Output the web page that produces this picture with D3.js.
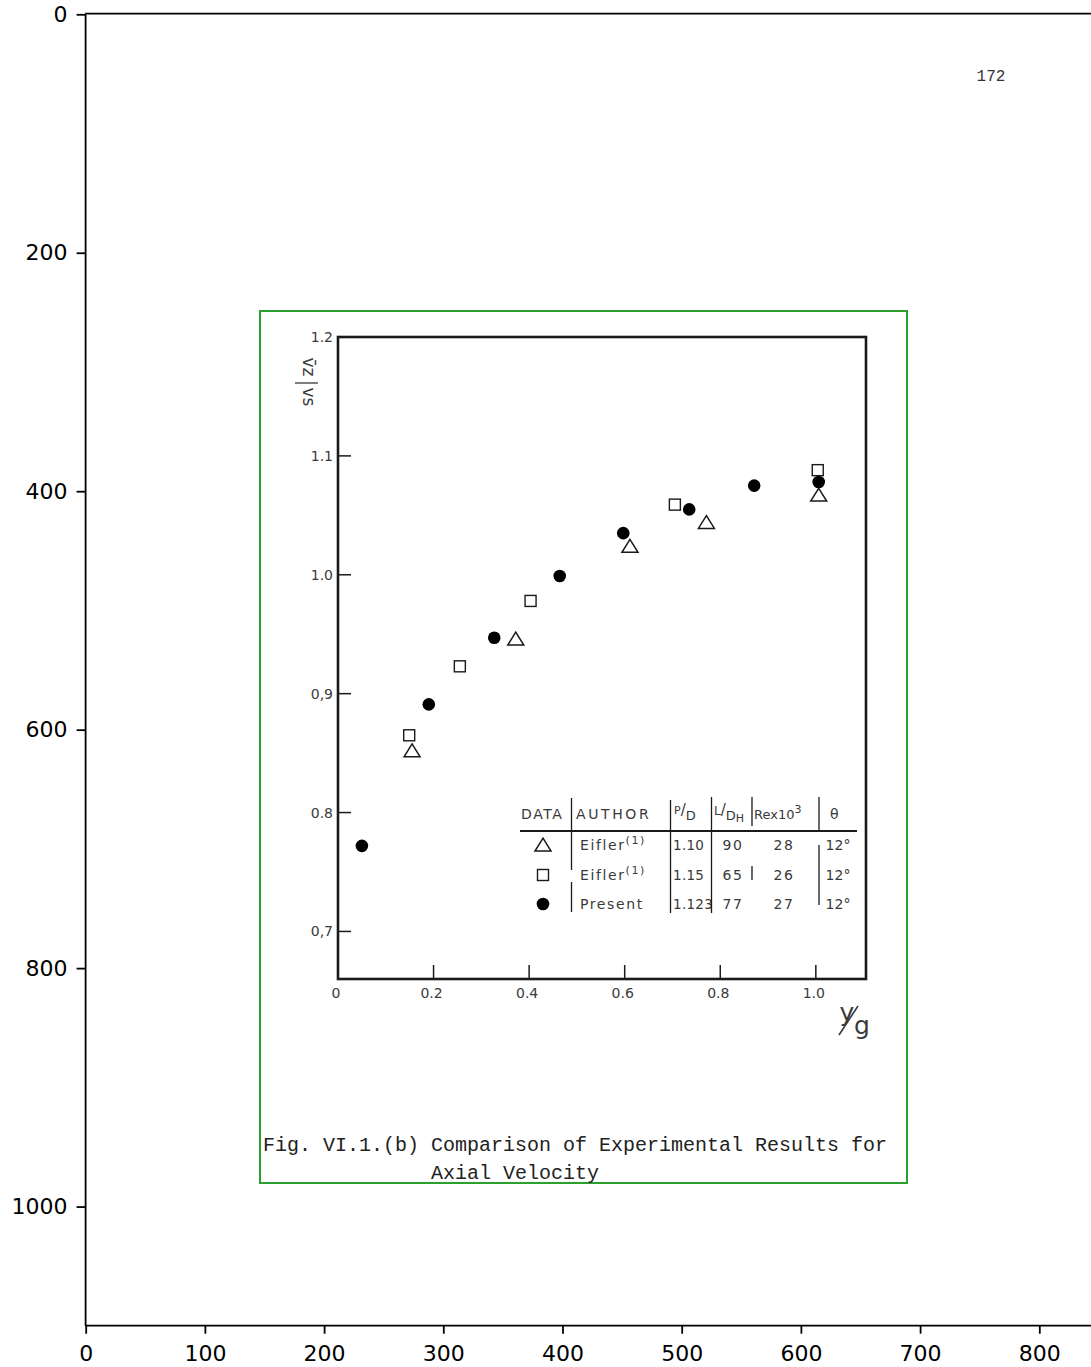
<!DOCTYPE html>
<html><head><meta charset="utf-8">
<script src="https://cdn.jsdelivr.net/npm/d3@7"></script>
<style>body{margin:0;background:#fff}</style>
</head><body>
<script>
// ---- outer (image pixel) axes ----
const outerXTicks=[0,100,200,300,400,500,600,700,800];
const outerYTicks=[0,200,400,600,800,1000];
// ---- inner (scanned chart) axes ----
const innerXTicks=[0.2,0.4,0.6,0.8,1.0];
const innerXTickLabels=["0","0.2","0.4","0.6","0.8","1.0"];
const innerXLabelValues=[0,0.2,0.4,0.6,0.8,1.0];
const innerYTicks=[0.7,0.8,0.9,1.0,1.1];
const innerYLabelValues=[0.7,0.8,0.9,1.0,1.1,1.2];
const innerYTickLabels=["0,7","0.8","0,9","1.0","1.1","1.2"];
// ---- series ----
const triangleX=[0.155,0.372,0.611,0.771,1.006];
const triangleY=[0.852,0.946,1.024,1.044,1.067];
const squareX=[0.149,0.255,0.403,0.705,1.004];
const squareY=[0.865,0.923,0.978,1.059,1.088];
const circleX=[0.050,0.190,0.327,0.464,0.597,0.735,0.871,1.006];
const circleY=[0.772,0.891,0.947,0.999,1.035,1.055,1.075,1.078];
// ---- legend table ----
const legendHeaders=["DATA","AUTHOR","P/D","L/DH","Rex10³","θ"];
const legendAuthors=["Eifler","Eifler","Present"];
const legendAuthorRefs=["(1)","(1)",""];
const legendPD=["1.10","1.15","1.123"];
const legendLDH=["90","65","77"];
const legendRe=["28","26","27"];
const legendTheta=["12°","12°","12°"];
const captionLines=["Fig. VI.1.(b) Comparison of Experimental Results for","Axial Velocity"];
const pageNumber="172";

const W=1091,H=1367;
const svg=d3.select("body").append("svg").attr("width",W).attr("height",H)
  .style("font-family","'DejaVu Sans',sans-serif");

// outer scales
const ox=d3.scaleLinear().domain([-0.5,849.5]).range([85.1,1098.3]);
const oy=d3.scaleLinear().domain([-0.5,1099.5]).range([13.7,1325.2]);

// green box (frame of the scanned figure)
svg.append("rect").attr("x",260).attr("y",311).attr("width",647).attr("height",872)
  .attr("fill","none").attr("stroke","#2ca02c").attr("stroke-width",2);

// outer axes
const gx=svg.append("g").attr("transform",`translate(0,${oy(1099.5)})`)
  .call(d3.axisBottom(ox).tickValues(outerXTicks).tickFormat(d3.format("d")).tickSize(8.5).tickSizeOuter(0).tickPadding(12));
const gy=svg.append("g").attr("transform",`translate(${ox(-0.5)},0)`)
  .call(d3.axisLeft(oy).tickValues(outerYTicks).tickFormat(d3.format("d")).tickSize(8.5).tickSizeOuter(0).tickPadding(9));
[gx,gy].forEach(g=>{
  g.selectAll("path,line").attr("stroke","#000").attr("stroke-width",1.8);
  g.selectAll("text").attr("font-size",22).attr("fill","#000").attr("font-family","'DejaVu Sans',sans-serif");
});
svg.append("line").attr("x1",ox(-0.5)).attr("x2",ox(849.5)).attr("y1",oy(-0.5)).attr("y2",oy(-0.5))
  .attr("stroke","#000").attr("stroke-width",1.8);

// inner scales
const ix=d3.scaleLinear().domain([0,1.105]).range([338,866]);
const iy=d3.scaleLinear().domain([0.66,1.2]).range([979,337]);
const ink="#1a1a1a", txt="#3a3a3a";

// inner frame
svg.append("rect").attr("x",ix(0)).attr("y",iy(1.2)).attr("width",ix(1.105)-ix(0)).attr("height",iy(0.66)-iy(1.2))
  .attr("fill","none").attr("stroke",ink).attr("stroke-width",2.6);

// inner ticks
svg.append("g").selectAll("line").data(innerXTicks).join("line")
  .attr("x1",d=>ix(d)).attr("x2",d=>ix(d)).attr("y1",iy(0.66)).attr("y2",iy(0.66)-14)
  .attr("stroke",ink).attr("stroke-width",1.5);
svg.append("g").selectAll("line").data(innerYTicks).join("line")
  .attr("x1",ix(0)).attr("x2",ix(0)+13).attr("y1",d=>iy(d)).attr("y2",d=>iy(d))
  .attr("stroke",ink).attr("stroke-width",1.5);
svg.append("g").selectAll("text").data(innerXLabelValues).join("text")
  .attr("x",d=>ix(d)-2).attr("y",998).attr("text-anchor","middle")
  .attr("font-size",14).attr("fill",txt).text((d,i)=>innerXTickLabels[i]);
svg.append("g").selectAll("text").data(innerYLabelValues).join("text")
  .attr("x",333).attr("y",d=>iy(d)+5).attr("text-anchor","end")
  .attr("font-size",14).attr("fill",txt).text((d,i)=>innerYTickLabels[i]);

// inner y label (vz / vs)
const yl=svg.append("g").attr("fill",txt).attr("font-size",17);
yl.append("text").attr("transform","translate(303,367) rotate(90)").attr("text-anchor","middle").text("v̄z");
yl.append("line").attr("x1",295).attr("x2",318).attr("y1",383).attr("y2",383).attr("stroke",txt).attr("stroke-width",1.3);
yl.append("text").attr("transform","translate(303,397) rotate(90)").attr("text-anchor","middle").text("vs");

// inner x label (y/g)
const xl=svg.append("g").attr("fill",txt).attr("font-size",25);
xl.append("text").attr("x",847).attr("y",1021).attr("text-anchor","middle").text("y");
xl.append("line").attr("x1",839).attr("y1",1035).attr("x2",858).attr("y2",1006).attr("stroke",txt).attr("stroke-width",1.6);
xl.append("text").attr("x",862).attr("y",1034).attr("text-anchor","middle").text("g");

// marks
const triPath=(cx,cy,s)=>`M${cx},${cy-s*0.85}L${cx+s},${cy+s*0.75}L${cx-s},${cy+s*0.75}Z`;
svg.append("g").selectAll("path").data(triangleX).join("path")
  .attr("d",(d,i)=>triPath(ix(d),iy(triangleY[i]),8))
  .attr("fill","#fff").attr("stroke",ink).attr("stroke-width",1.5);
svg.append("g").selectAll("rect").data(squareX).join("rect")
  .attr("x",d=>ix(d)-5.5).attr("y",(d,i)=>iy(squareY[i])-5.5).attr("width",11).attr("height",11)
  .attr("fill","#fff").attr("stroke",ink).attr("stroke-width",1.4);
svg.append("g").selectAll("circle").data(circleX).join("circle")
  .attr("cx",d=>ix(d)).attr("cy",(d,i)=>iy(circleY[i])).attr("r",6.3).attr("fill","#000");

// legend table
const lg=svg.append("g").attr("fill",txt).attr("font-size",14).attr("letter-spacing",1.6);
lg.append("text").attr("x",521).attr("y",819).text(legendHeaders[0]);
lg.append("text").attr("x",576).attr("y",819).attr("letter-spacing",2.6).text(legendHeaders[1]);
const pd=lg.append("text").attr("x",674).attr("y",819).attr("letter-spacing",0);
pd.append("tspan").attr("font-size",11).attr("dy",-5).text("P");
pd.append("tspan").attr("font-size",15).attr("dy",1).text("/");
pd.append("tspan").attr("font-size",13).attr("dy",5).text("D");
const ld=lg.append("text").attr("x",714).attr("y",819).attr("letter-spacing",0);
ld.append("tspan").attr("font-size",12).attr("dy",-4).text("L");
ld.append("tspan").attr("font-size",15).attr("dy",0).text("/");
ld.append("tspan").attr("font-size",13).attr("dy",5).text("D");
ld.append("tspan").attr("font-size",11).attr("dy",2).text("H");
const re=lg.append("text").attr("x",754).attr("y",819).attr("letter-spacing",0).attr("font-size",13);
re.append("tspan").text("Rex10");
re.append("tspan").attr("font-size",11).attr("dy",-6).text("3");
lg.append("text").attr("x",835).attr("y",819).attr("text-anchor","middle").text(legendHeaders[5]);

const rowY=[850,880,909];
// legend symbols
lg.append("path").attr("d",triPath(543,rowY[0]-5,8)).attr("fill","#fff").attr("stroke",ink).attr("stroke-width",1.5);
lg.append("rect").attr("x",537.5).attr("y",rowY[1]-10.5).attr("width",11).attr("height",11).attr("fill","#fff").attr("stroke",ink).attr("stroke-width",1.4);
lg.append("circle").attr("cx",543).attr("cy",rowY[2]-5).attr("r",6.3).attr("fill","#000");
rowY.forEach((y,i)=>{
  const a=lg.append("text").attr("x",580).attr("y",y);
  a.append("tspan").text(legendAuthors[i]);
  if(legendAuthorRefs[i]) a.append("tspan").attr("font-size",11).attr("dy",-6).text(legendAuthorRefs[i]);
  lg.append("text").attr("x",673).attr("y",y).attr("letter-spacing",0.3).attr("font-size",13.5).text(legendPD[i]);
  lg.append("text").attr("x",733).attr("y",y).attr("text-anchor","middle").text(legendLDH[i]);
  lg.append("text").attr("x",784).attr("y",y).attr("text-anchor","middle").text(legendRe[i]);
  lg.append("text").attr("x",838).attr("y",y).attr("text-anchor","middle").attr("letter-spacing",0).text(legendTheta[i]);
});
const tl=[[571.5,798,870],[571.5,882,912],[670.5,800,913],[711.5,797,913],[752,797,826],[752,866,880],[819,797,830],[819,845,905]];
svg.append("g").selectAll("line").data(tl).join("line")
  .attr("x1",d=>d[0]).attr("x2",d=>d[0]).attr("y1",d=>d[1]).attr("y2",d=>d[2])
  .attr("stroke",ink).attr("stroke-width",1.3);
svg.append("line").attr("x1",520).attr("x2",857).attr("y1",831).attr("y2",831).attr("stroke",ink).attr("stroke-width",2.2);

// caption
const cap=svg.append("g").attr("font-family","'Liberation Mono','DejaVu Sans Mono',monospace").attr("font-size",20).attr("fill","#222");
cap.append("text").attr("x",263).attr("y",1151).text(captionLines[0]);
cap.append("text").attr("x",431).attr("y",1179).text(captionLines[1]);

// page number
svg.append("text").attr("x",991).attr("y",81).attr("text-anchor","middle")
  .attr("font-family","'Liberation Mono',monospace").attr("font-size",16).attr("fill","#333").text(pageNumber);
</script>
</body></html>
